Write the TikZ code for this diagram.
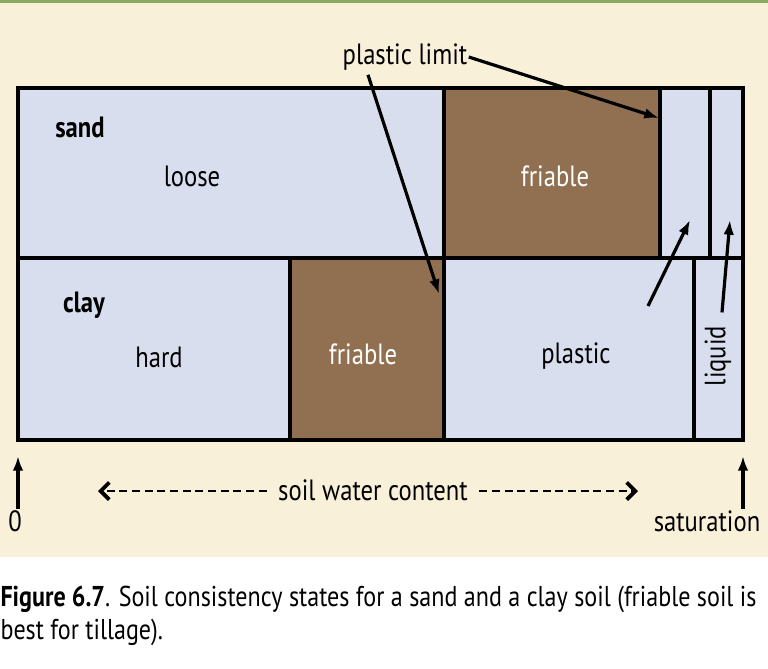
\documentclass[tikz,border=0pt]{standalone}
\usepackage{fontspec}
\setmainfont{PT Sans}[FakeStretch=0.84]
\usetikzlibrary{arrows.meta}

\definecolor{cellblue}{RGB}{216,222,238}
\definecolor{soilbrown}{RGB}{144,112,80}
\definecolor{paper}{RGB}{249,240,218}
\definecolor{rulegreen}{RGB}{138,172,96}

\tikzset{every picture/.style={line width=0.75pt}}
\tikzset{
  cell/.style={draw, line width=3pt, fill=cellblue},
  soilcell/.style={draw, line width=3pt, fill=soilbrown},
  lbl/.style={inner sep=0.75pt, font=\fontsize{22}{26}\selectfont},
  pointer/.style={line width=2.4pt, -{Latex[length=11pt,width=8pt]}},
  waterarrow/.style={line width=1.7pt, dash pattern={on 6pt off 3.5pt}, -{Straight Barb[length=6.5pt,width=13pt,line width=2.8pt]}}
}

\begin{document}
\begin{tikzpicture}[x=0.75pt,y=0.75pt,yscale=-1,xscale=1]
	\useasboundingbox (0,0) rectangle (768,668);

	%Shape: Background
	\fill [paper] (0,0) rectangle (768,557);
	\fill [rulegreen] (0,0) rectangle (768,2.5);

	%Shape: Sand row
	\draw [cell] (18,88) rectangle (444,258);
	\draw [soilcell] (444,88) rectangle (660,258);
	\draw [cell] (660,88) rectangle (710,258);
	\draw [cell] (710,88) rectangle (743,258);
	%Shape: Clay row
	\draw [cell] (18,258) rectangle (290,440);
	\draw [soilcell] (290,258) rectangle (444,440);
	\draw [cell] (444,258) rectangle (694,440);
	\draw [cell] (694,258) rectangle (743,440);

	% Text Node
	\node [lbl, font=\fontsize{22}{26}\selectfont\bfseries] (sand) at (80,127) {sand};
	\node [lbl] (loose) at (192,176) {loose};
	\node [lbl, text=white] (sandfriable) at (555,176) {friable};
	\node [lbl, font=\fontsize{22}{26}\selectfont\bfseries] (clay) at (84,305) {clay};
	\node [lbl] (hard) at (159,357) {hard};
	\node [lbl, text=white] (clayfriable) at (363,354) {friable};
	\node [lbl] (plastic) at (576,356) {plastic};
	\node [lbl, rotate=90] (liquid) at (718,356) {liquid};
	\node [lbl] (plimit) at (405,57) {plastic limit};

	%Straight Lines: plastic limit pointers
	\coordinate (plsand) at (659,118);
	\coordinate (plclay) at (439,294);
	\draw [pointer] (plimit.east) -- (plsand);
	\draw [pointer] (plimit.south -| 368,0) ++(0,3) -- (plclay);
	%Straight Lines: liquid pointers
	\coordinate (tailplastic) at (648,306);
	\coordinate (headplastic) at (690,220);
	\coordinate (headliquid) at (730,220);
	\draw [pointer] (tailplastic) -- (headplastic);
	\draw [pointer] (liquid.east) ++(4,-12) -- (headliquid);

	% Text Node
	\node [lbl] (zero) at (15,521) {0};
	\node [lbl] (saturation) at (707,521) {saturation};
	\draw [pointer] (zero.north -| 18,0) -- (18,456);
	\draw [pointer] (saturation.north -| 743,0) -- (743,456);

	% Text Node
	\node [lbl] (swc) at (373,490) {soil water content};
	\coordinate (dryend) at (98,491);
	\coordinate (wetend) at (638,491);
	\draw [waterarrow] (swc.west |- dryend) ++(-10,0) -- (dryend);
	\draw [waterarrow] (swc.east |- wetend) ++(10,0) -- (wetend);

	% Text Node: caption
	\node [anchor=north west, inner sep=0pt, align=left, font=\fontsize{21.5}{24.5}\selectfont] (caption) at (0,586)
	  {\textbf{Figure 6.7}. Soil consistency states for a sand and a clay soil (friable soil is\\best for tillage).};
\end{tikzpicture}
\end{document}
